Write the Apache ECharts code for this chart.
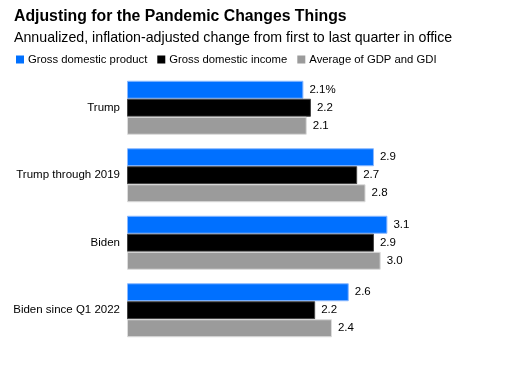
<!DOCTYPE html>
<html><head><meta charset="utf-8">
<script src="https://cdn.jsdelivr.net/npm/echarts@6/dist/echarts.min.js"></script>
<style>html,body{margin:0;padding:0;background:#fff}#c{width:529px;height:374px}</style>
</head><body><div id="c"></div>
<script>
const categories = ['Trump', 'Trump through 2019', 'Biden', 'Biden since Q1 2022'];
const seriesNames = ['Gross domestic product', 'Gross domestic income', 'Average of GDP and GDI'];
const gdp = [2.10, 2.94, 3.10, 2.64];
const gdi = [2.19, 2.74, 2.94, 2.24];
const avg = [2.14, 2.84, 3.02, 2.44];
const colors = ['#0070ff', '#000000', '#9b9b9b'];
const borders = ['#8ab8ff', '#444444', '#dcdcdc'];

const FONT = 'Liberation Sans, Arial, sans-serif';
const chart = echarts.init(document.getElementById('c'), null, {renderer: 'canvas'});
const values = [gdp, gdi, avg];
const series = values.map((vals, i) => ({
  name: seriesNames[i],
  type: 'bar',
  data: vals,
  barWidth: 18,
  barGap: '0%',
  itemStyle: {color: colors[i], borderColor: borders[i], borderWidth: 1},
  label: {
    show: true, position: 'right', distance: 6,
    color: '#000', fontFamily: FONT, fontSize: 11.5,
    formatter: p => p.value.toFixed(1) + (i === 0 && p.dataIndex === 0 ? '%' : '')
  },
  animation: false
}));

chart.setOption({
  animation: false,
  title: [
    {text: 'Adjusting for the Pandemic Changes Things', left: 14, top: 9, padding: 0,
     textStyle: {fontFamily: FONT, fontSize: 15.8, fontWeight: 'bold', color: '#000'}},
    {text: 'Annualized, inflation-adjusted change from first to last quarter in office', left: 14, top: 31, padding: 0,
     textStyle: {fontFamily: FONT, fontSize: 14.2, fontWeight: 'normal', color: '#000'}}
  ],
  legend: {
    left: 16, top: 54, padding: 0, icon: 'rect', itemWidth: 8, itemHeight: 8, itemGap: 10,
    itemStyle: {borderWidth: 0},
    textStyle: {fontFamily: FONT, fontSize: 11.3, color: '#000', padding: [0,0,0,-1]},
    data: seriesNames
  },
  grid: {left: 127, right: 66, top: 74, bottom: 30, containLabel: false},
  xAxis: {type: 'value', min: 0, max: 4, show: false},
  yAxis: {
    type: 'category', data: categories, inverse: true,
    axisLine: {show: false}, axisTick: {show: false},
    axisLabel: {fontFamily: FONT, fontSize: 11.5, color: '#000', margin: 7}
  },
  series: series
});
</script></body></html>
